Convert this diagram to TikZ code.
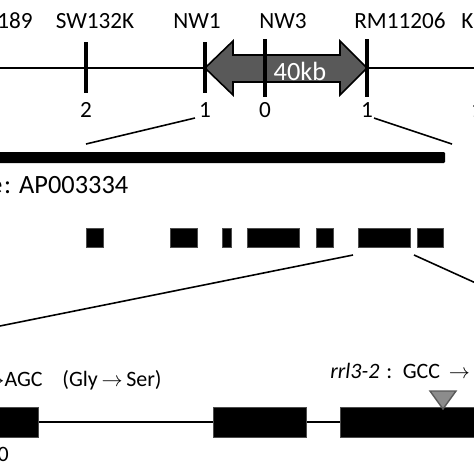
\documentclass[tikz,border=0pt]{standalone}
\usepackage{fontspec}
\setmainfont{Carlito}
\usetikzlibrary{positioning}

\begin{document}
\begin{tikzpicture}[x=0.02cm, y=-0.02cm,
  title/.style={font=\fontsize{13.2}{14}\selectfont},
  num/.style={font=\fontsize{13.2}{14}\selectfont},
  note/.style={font=\fontsize{12.5}{14}\selectfont, inner sep=0pt},
  chrline/.style={line width=1.7pt},
  tickline/.style={line width=1.8pt},
  zoomline/.style={line width=0.9pt},
  exon/.style={fill=black, draw=black!70, line width=0.4pt}]
\path [use as bounding box, clip] (0,0) rectangle (474,474);

% chromosome with markers
\draw [chrline] (-10,68) -- (484,68);
\draw [fill=black!65, line width=0.9pt] (205,68) -- (233,41) -- (233,55) -- (340,55) -- (340,41) -- (367,68)
  -- (340,95) -- (340,82) -- (233,82) -- (233,95) -- cycle;
\node (kb) at (300,71) [font=\fontsize{15}{16}\selectfont, text=white] {40kb};

\node (m0) at (33,21) [title, anchor=east, inner sep=0pt] {189};
\node (m1) at (95,21) [title] {SW132K};
\node (m2) at (197,21) [title] {NW1};
\node (m3) at (283,21) [title] {NW3};
\node (m4) at (400,21) [title] {RM11206};
\node (m5) at (461,21) [title, anchor=west, inner sep=0pt] {K};

\draw [tickline] (86,42) -- (86,93);
\draw [tickline] (205,42) -- (205,93);
\draw [tickline] (265,39) -- (265,97);
\draw [tickline] (367,39) -- (367,97);

\node (n1) at (86,110) [num] {2};
\node (n2) at (205,110) [num] {1};
\node (n3) at (265,110) [num] {0};
\node (n4) at (367,110) [num] {1};
\node (n5) at (477,110) [num] {1};

% clone
\coordinate (z1) at (195,118);
\coordinate (z2) at (86,144);
\coordinate (z3) at (374,118);
\coordinate (z4) at (452,144);
\draw [zoomline] (z1) -- (z2);
\draw [zoomline] (z3) -- (z4);
\fill [rounded corners=0.6pt] (-10,152) rectangle (445,163);
\node (bac) at (-11,193) [font=\fontsize{15}{16}\selectfont, anchor=base west, inner sep=0pt] {e\hspace{1pt}:\hspace{0.3em}AP003334};

% genes on the clone
\foreach \a/\b in {86/103,170/197,222/231,247/299,316/333,358/410,417/443}
  \draw [exon] (\a,228) rectangle (\b,247);

\coordinate (g1) at (353,255);
\coordinate (g2) at (-20,330);
\coordinate (g3) at (414,255);
\coordinate (g4) at (500,294);
\draw [zoomline] (g1) -- (g2);
\draw [zoomline] (g3) -- (g4);

% gene structure
\draw [line width=0.7pt] (38,422) -- (213,422);
\draw [line width=0.7pt] (306,422) -- (340,422);
\draw [exon] (-10,407) rectangle (38,437);
\draw [exon] (213,407) rectangle (306,437);
\draw [exon] (340,407) rectangle (490,437);
\draw [fill=black!45, draw=black!65, line width=0.8pt] (430,391) -- (456,391) -- (443,409) -- cycle;

\node (mut1) at (43,386) [note, anchor=base east] {$\rightarrow$AGC};
\node (aa1) at (62,386) [note, anchor=base west] {(Gly\,$\rightarrow$\,Ser)};
\node (mut2) at (330,378) [note, anchor=base west] {\textit{rrl3-2}\hspace{4pt}:\hspace{6pt}GCC\hspace{5pt}$\rightarrow$};
\node (pos1) at (9,461) [note, anchor=base east] {0};
\end{tikzpicture}
\end{document}
